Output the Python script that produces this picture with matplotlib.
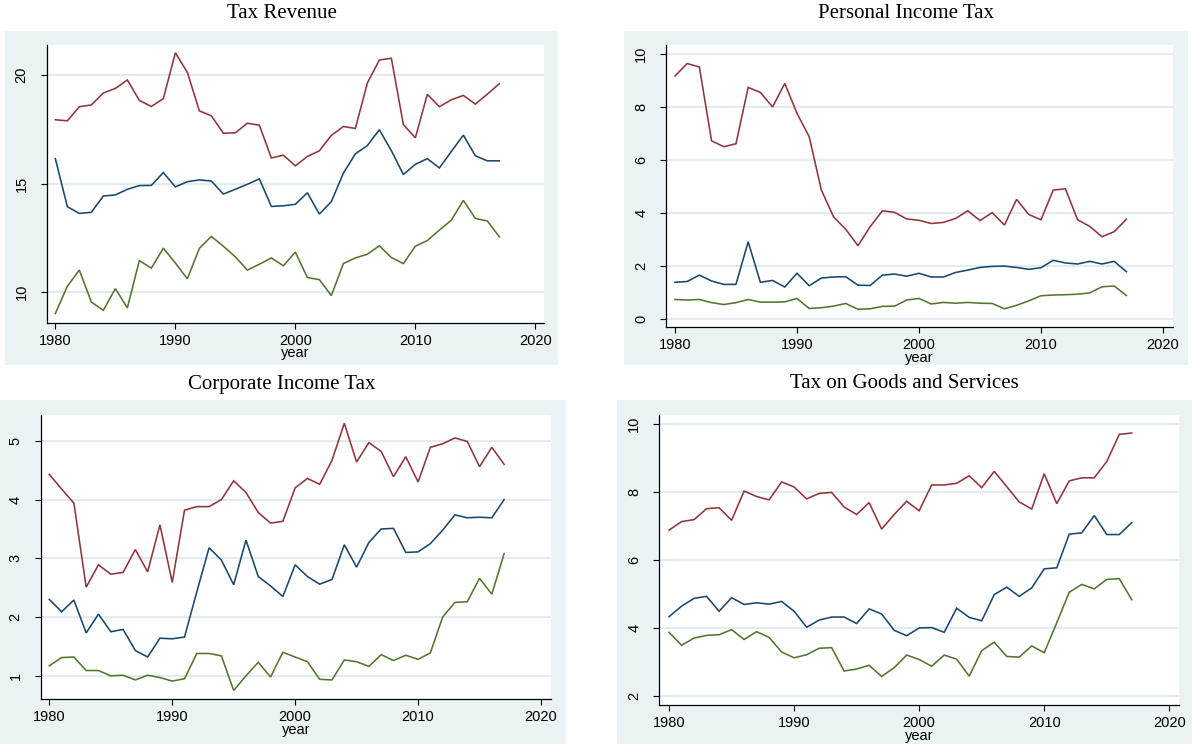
import matplotlib
matplotlib.use("Agg")
import matplotlib.pyplot as plt
from matplotlib.patches import Rectangle

years = list(range(1980, 2018))
x_ticks = [1980, 1990, 2000, 2010, 2020]

# Tax revenue (% of GDP)
rev_navy = [16.15, 13.94, 13.63, 13.68, 14.43, 14.48, 14.74, 14.91, 14.92, 15.51,
            14.85, 15.09, 15.17, 15.12, 14.52, 14.74, 14.97, 15.22, 13.95, 13.98,
            14.05, 14.58, 13.60, 14.17, 15.48, 16.37, 16.75, 17.48, 16.52, 15.42,
            15.89, 16.15, 15.72, 16.48, 17.23, 16.28, 16.05, 16.05]
rev_maroon = [17.94, 17.89, 18.54, 18.62, 19.17, 19.38, 19.77, 18.83, 18.55, 18.91,
              21.02, 20.12, 18.35, 18.12, 17.32, 17.34, 17.78, 17.69, 16.18, 16.31,
              15.82, 16.25, 16.51, 17.22, 17.63, 17.54, 19.63, 20.69, 20.77, 17.72,
              17.11, 19.11, 18.54, 18.86, 19.06, 18.66, 19.12, 19.60]
rev_green = [9.02, 10.28, 11.02, 9.55, 9.17, 10.17, 9.28, 11.46, 11.11, 12.03,
             11.35, 10.62, 12.02, 12.57, 12.12, 11.63, 11.02, 11.29, 11.58, 11.22,
             11.85, 10.68, 10.58, 9.85, 11.32, 11.58, 11.75, 12.14, 11.60, 11.32,
             12.12, 12.38, 12.86, 13.32, 14.23, 13.40, 13.28, 12.55]
rev_ticks = [10, 15, 20]

# Personal income tax
pit_navy = [1.39, 1.42, 1.66, 1.44, 1.31, 1.31, 2.92, 1.39, 1.46, 1.21,
            1.73, 1.26, 1.55, 1.59, 1.60, 1.28, 1.27, 1.66, 1.70, 1.62,
            1.73, 1.59, 1.59, 1.76, 1.85, 1.95, 1.99, 2.00, 1.95, 1.88,
            1.94, 2.22, 2.12, 2.08, 2.18, 2.08, 2.18, 1.79]
pit_maroon = [9.18, 9.65, 9.52, 6.73, 6.51, 6.62, 8.75, 8.56, 8.01, 8.90,
              7.77, 6.89, 4.87, 3.86, 3.39, 2.77, 3.49, 4.09, 4.03, 3.78,
              3.73, 3.61, 3.65, 3.80, 4.09, 3.72, 4.02, 3.55, 4.52, 3.95,
              3.75, 4.87, 4.92, 3.75, 3.50, 3.11, 3.30, 3.77]
pit_green = [0.74, 0.72, 0.74, 0.62, 0.55, 0.62, 0.74, 0.64, 0.64, 0.65,
             0.78, 0.40, 0.43, 0.49, 0.59, 0.37, 0.39, 0.48, 0.49, 0.72,
             0.78, 0.57, 0.63, 0.60, 0.63, 0.60, 0.59, 0.39, 0.52, 0.69,
             0.88, 0.91, 0.92, 0.94, 0.99, 1.22, 1.25, 0.89]
pit_ticks = [0, 2, 4, 6, 8, 10]

# Corporate income tax
cit_navy = [2.30, 2.09, 2.29, 1.73, 2.05, 1.75, 1.79, 1.43, 1.32, 1.64,
            1.63, 1.66, 2.43, 3.18, 2.97, 2.55, 3.31, 2.69, 2.53, 2.35,
            2.89, 2.69, 2.56, 2.64, 3.23, 2.85, 3.27, 3.50, 3.51, 3.10,
            3.11, 3.25, 3.48, 3.74, 3.69, 3.70, 3.69, 4.00]
cit_maroon = [4.43, 4.18, 3.94, 2.51, 2.89, 2.73, 2.76, 3.15, 2.77, 3.57,
              2.59, 3.82, 3.88, 3.88, 4.00, 4.32, 4.12, 3.78, 3.60, 3.63,
              4.20, 4.36, 4.26, 4.67, 5.30, 4.64, 4.97, 4.82, 4.39, 4.73,
              4.30, 4.89, 4.95, 5.05, 4.99, 4.56, 4.89, 4.60]
cit_green = [1.17, 1.31, 1.32, 1.09, 1.09, 1.00, 1.01, 0.93, 1.01, 0.97,
             0.91, 0.95, 1.38, 1.38, 1.34, 0.75, 1.00, 1.23, 0.98, 1.40,
             1.32, 1.24, 0.94, 0.93, 1.27, 1.24, 1.16, 1.36, 1.26, 1.35,
             1.28, 1.39, 2.00, 2.25, 2.26, 2.66, 2.39, 3.08]
cit_ticks = [1, 2, 3, 4, 5]

# Taxes on goods and services
gst_navy = [4.33, 4.64, 4.87, 4.93, 4.49, 4.89, 4.69, 4.74, 4.70, 4.78,
            4.49, 4.02, 4.23, 4.32, 4.32, 4.13, 4.56, 4.41, 3.93, 3.77,
            4.00, 4.01, 3.87, 4.58, 4.31, 4.21, 4.98, 5.20, 4.93, 5.18,
            5.74, 5.77, 6.76, 6.80, 7.31, 6.75, 6.75, 7.10]
gst_maroon = [6.88, 7.13, 7.19, 7.51, 7.54, 7.17, 8.03, 7.87, 7.77, 8.30,
              8.15, 7.80, 7.96, 7.99, 7.56, 7.34, 7.69, 6.91, 7.34, 7.73,
              7.45, 8.21, 8.21, 8.26, 8.48, 8.13, 8.61, 8.16, 7.71, 7.50,
              8.54, 7.66, 8.33, 8.42, 8.42, 8.90, 9.70, 9.74]
gst_green = [3.87, 3.49, 3.70, 3.78, 3.80, 3.95, 3.66, 3.89, 3.72, 3.29,
             3.12, 3.21, 3.40, 3.42, 2.73, 2.79, 2.90, 2.57, 2.83, 3.20,
             3.07, 2.87, 3.20, 3.08, 2.58, 3.33, 3.58, 3.16, 3.14, 3.47,
             3.27, 4.15, 5.05, 5.28, 5.15, 5.43, 5.45, 4.83]
gst_ticks = [2, 4, 6, 8, 10]

titles = ["Tax Revenue", "Personal Income Tax",
          "Corporate Income Tax", "Tax on Goods and Services"]

NAVY = "#1A476F"
MAROON = "#90353B"
GREEN = "#55752F"
REGION = "#EAF2F3"
GRID = "#DFE9EC"

W, H = 1192, 744
fig = plt.figure(figsize=(W / 100, H / 100), dpi=100)
fig.patch.set_facecolor("white")


def fx(px):
    return px / W


def fy(py):
    return 1 - py / H


# pixel layout: (graph region box), (plot area box), xlim, ylim, title position
panels = [
    dict(region=(5, 31, 558, 365), plot=(46.7, 45, 544, 322.7),
         xlim=(1979.28, 2020.72), ylim=(8.6, 21.38), title_xy=(282, 14),
         series=(rev_navy, rev_maroon, rev_green), ticks=rev_ticks, title=titles[0]),
    dict(region=(624, 31, 1188, 365), plot=(666.3, 45, 1173, 327.3),
         xlim=(1979.29, 2020.82), ylim=(-0.31, 10.35), title_xy=(906, 14),
         series=(pit_navy, pit_maroon, pit_green), ticks=pit_ticks, title=titles[1]),
    dict(region=(0, 400, 566, 744), plot=(40.7, 415, 550.7, 699.3),
         xlim=(1979.3, 2020.79), ylim=(0.6, 5.44), title_xy=(282, 384),
         series=(cit_navy, cit_maroon, cit_green), ticks=cit_ticks, title=titles[2]),
    dict(region=(617, 400, 1192, 744), plot=(659.3, 415, 1179.3, 705),
         xlim=(1979.22, 2020.8), ylim=(1.73, 10.27), title_xy=(904, 384),
         series=(gst_navy, gst_maroon, gst_green), ticks=gst_ticks, title=titles[3]),
]

for p in panels:
    x0, y0, x1, y1 = p["region"]
    fig.patches.append(Rectangle((fx(x0), fy(y1)), fx(x1 - x0), (y1 - y0) / H,
                                 transform=fig.transFigure, facecolor=REGION,
                                 edgecolor="none", zorder=-10))
    fig.text(fx(p["title_xy"][0]), fy(p["title_xy"][1]), p["title"],
             ha="center", va="center", fontsize=15, family="Liberation Serif",
             color="black")

    l, t, r, b = p["plot"]
    ax = fig.add_axes([fx(l), fy(b), fx(r - l), (b - t) / H])
    ax.set_zorder(1)
    ax.set_facecolor("white")
    for s, c in zip(p["series"], (NAVY, MAROON, GREEN)):
        ax.plot(years, s, color=c, lw=1.15, solid_joinstyle="miter")
    ax.set_xlim(*p["xlim"])
    ax.set_ylim(*p["ylim"])
    ax.set_xticks(x_ticks)
    ax.set_yticks(p["ticks"])
    ax.yaxis.grid(True, color=GRID, lw=1.3)
    ax.set_axisbelow(True)
    for side in ("top", "right"):
        ax.spines[side].set_visible(False)
    for side in ("left", "bottom"):
        ax.spines[side].set_linewidth(0.9)
        ax.spines[side].set_color("black")
    ax.tick_params(axis="both", direction="out", length=4, width=0.8,
                   labelsize=10.5, colors="black")
    ax.tick_params(axis="y", pad=9)
    ax.tick_params(axis="x", pad=4)
    for lab in ax.get_yticklabels():
        lab.set_rotation(90)
        lab.set_va("center")
        lab.set_family("Liberation Sans")
    for lab in ax.get_xticklabels():
        lab.set_family("Liberation Sans")
    ax.set_xlabel("year", fontsize=10.5, family="Liberation Sans", labelpad=-1)

fig.savefig("out.png", dpi=100, facecolor="white")
